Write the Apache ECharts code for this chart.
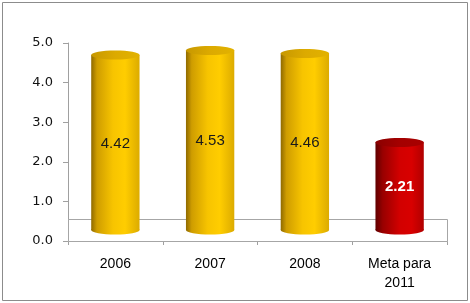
<!DOCTYPE html>
<html>
<head>
<meta charset="utf-8">
<script src="https://cdn.jsdelivr.net/npm/echarts@6/dist/echarts.min.js"></script>
<style>
html,body{margin:0;padding:0;background:#fff;}
#chart{width:470px;height:303px;}
</style>
</head>
<body>
<div id="chart"></div>
<script>
const categories = ['2006', '2007', '2008', 'Meta para\n2011'];
const values = [4.42, 4.53, 4.46, 2.21];
const yTicks = [0, 1, 2, 3, 4, 5];
const barKinds = ['gold', 'gold', 'gold', 'red'];

const palettes = {
  gold: {
    body: [[0, '#8f6a00'], [0.12, '#cf9d00'], [0.45, '#f7c400'], [0.7, '#ffcd00'], [1, '#dcab00']],
    top: [[0, '#c79800'], [0.5, '#dcaa00'], [1, '#e2b200']],
    label: '#1a1a1a', bold: 'normal'
  },
  red: {
    body: [[0, '#600000'], [0.15, '#980000'], [0.5, '#d20000'], [0.75, '#d80000'], [1, '#b00000']],
    top: [[0, '#8a0000'], [0.5, '#a40000'], [1, '#a80000']],
    label: '#ffffff', bold: 'bold'
  }
};
function grad(stops) {
  return { type: 'linear', x: 0, y: 0, x2: 1, y2: 0,
    colorStops: stops.map(s => ({ offset: s[0], color: s[1] })) };
}
const DEPTH = 22;

const chart = echarts.init(document.getElementById('chart'), null, { renderer: 'canvas' });
chart.setOption({
  backgroundColor: '#ffffff',
  animation: false,
  grid: { left: 68, right: 23, top: 43, bottom: 62 },
  xAxis: {
    type: 'category',
    data: categories,
    axisLine: { lineStyle: { color: '#a0a0a0', width: 1 } },
    axisTick: { show: true, length: 4, lineStyle: { color: '#a0a0a0' } },
    axisLabel: { color: '#000', fontFamily: 'Liberation Sans', fontSize: 14, margin: 14, lineHeight: 19 }
  },
  yAxis: {
    type: 'value',
    min: yTicks[0], max: yTicks[yTicks.length - 1], interval: 1,
    axisLine: { show: true, lineStyle: { color: '#a0a0a0', width: 1 } },
    axisTick: { show: true, length: 5, lineStyle: { color: '#a0a0a0' } },
    splitLine: { show: false },
    axisLabel: { color: '#111', fontFamily: 'DejaVu Sans', fontSize: 13, margin: 15,
      formatter: v => v.toFixed(1) }
  },
  graphic: [{
    type: 'rect', shape: { x: 2.5, y: 2.5, width: 465, height: 298 },
    style: { fill: 'none', stroke: '#8c8c8c', lineWidth: 1 }, silent: true
  }],
  series: [
    {
      type: 'custom',
      z: 1,
      data: [[0, 0]],
      renderItem: function (params, api) {
        const cs = params.coordSys;
        const y0 = api.coord([0, 0])[1];
        return {
          type: 'rect',
          shape: { x: Math.round(cs.x) + 0.5, y: Math.round(y0 - DEPTH) + 0.5, width: Math.round(cs.width), height: DEPTH },
          style: { fill: '#ffffff', stroke: '#a6a6a6', lineWidth: 1 }
        };
      }
    },
    {
      type: 'custom',
      z: 3,
      data: values.map((v, i) => [i, v]),
      renderItem: function (params, api) {
        const i = api.value(0), v = api.value(1);
        const base = api.coord([i, 0]);
        const top = api.coord([i, v]);
        const band = api.size([1, 0])[0];
        const w = band * 0.51;
        const d = DEPTH / 2;
        const yb = base[1] - d;
        const yt = top[1] - d;
        const ry = 4.5;
        const p = palettes[barKinds[i]];
        return {
          type: 'group',
          children: [
            { type: 'ellipse', shape: { cx: base[0], cy: yb, rx: w / 2, ry: ry }, style: { fill: grad(p.body) } },
            { type: 'rect', shape: { x: base[0] - w / 2, y: yt, width: w, height: yb - yt }, style: { fill: grad(p.body) } },
            { type: 'ellipse', shape: { cx: base[0], cy: yt, rx: w / 2, ry: ry }, style: { fill: grad(p.top) } },
            { type: 'text', style: { text: v.toFixed(2), x: base[0], y: (yt + yb) / 2 + 1, align: 'center', verticalAlign: 'middle',
                fontFamily: 'Liberation Sans', fontSize: 15, fontWeight: p.bold, fill: p.label } }
          ]
        };
      }
    }
  ]
});
</script>
</body>
</html>
